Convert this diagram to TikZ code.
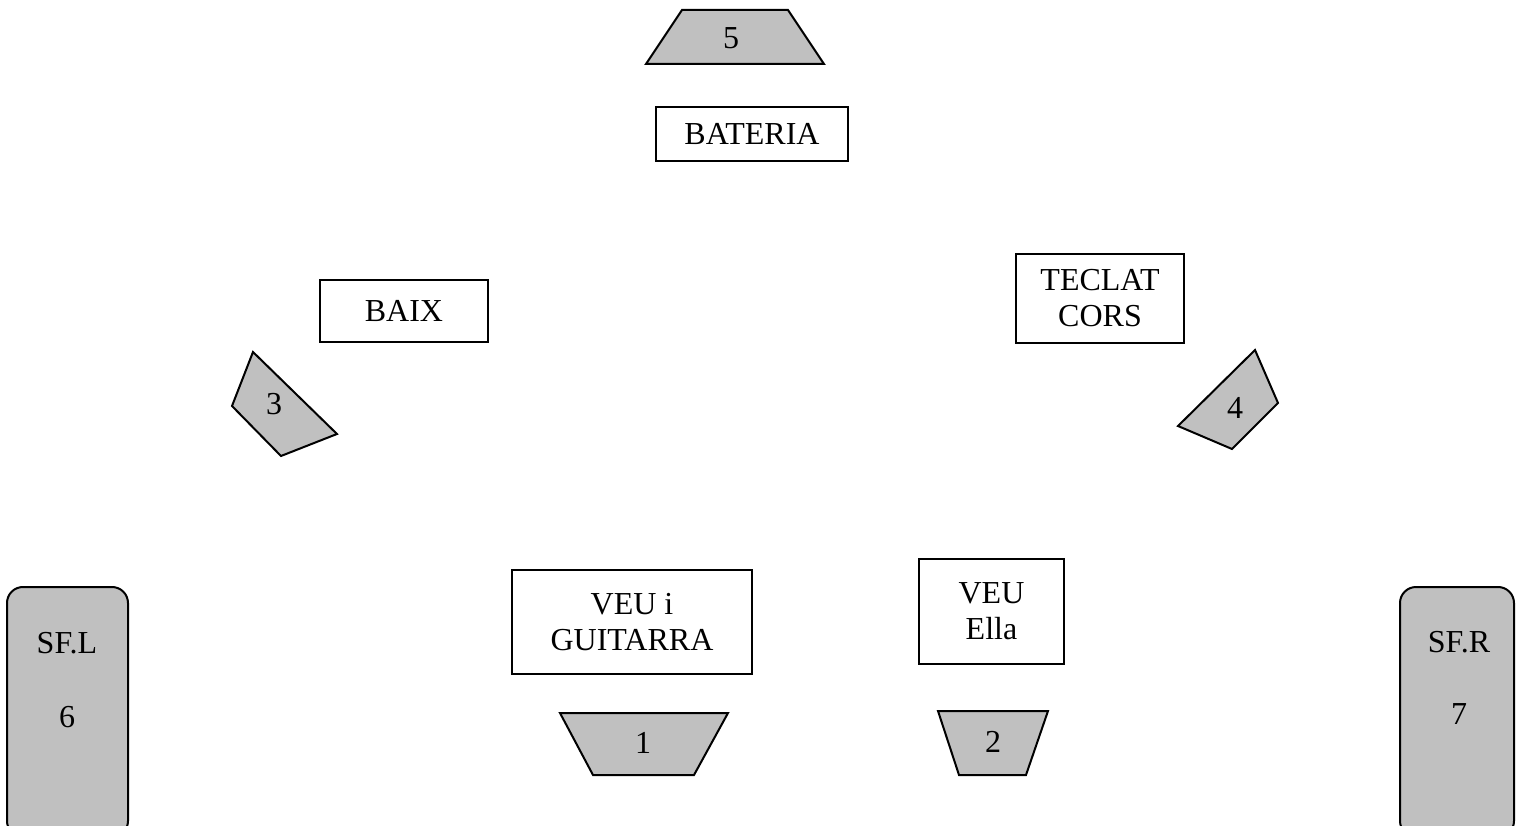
\documentclass[tikz,border=0pt]{standalone}
\usepackage{fontspec}
\setmainfont{Liberation Serif}
\definecolor{silverfill}{RGB}{192,192,192}
\begin{document}
\begin{tikzpicture}[x=1pt,y=-1pt,
  txt/.style={font=\fontsize{32}{36}\selectfont, align=center, inner sep=0pt},
  box/.style={draw=black, line width=2pt, fill=white, inner sep=0pt, txt},
  wedge/.style={draw=black, line width=2pt, fill=silverfill, line join=miter},
  sfbox/.style={draw=black, line width=2pt, fill=silverfill, rounded corners=16pt, inner sep=0pt}]
\useasboundingbox (0,0) rectangle (1516,826);
\clip (0,0) rectangle (1516,826);
% trapezium 5
\filldraw[wedge] (682,10) -- (788,10) -- (824,64) -- (646,64) -- cycle;
\node[txt] (n5) at (731,38) {5};
% boxes
\node[box, minimum width=192pt, minimum height=54pt] (bateria) at (752,134) {BATERIA};
\node[box, minimum width=168pt, minimum height=62pt] (baix) at (404,311) {BAIX};
\node[box, minimum width=168pt, minimum height=89pt] (teclat) at (1100,298.5) {TECLAT\\CORS};
\node[box, minimum width=240pt, minimum height=104pt] (veug) at (632,622) {VEU i\\GUITARRA};
\node[box, minimum width=145pt, minimum height=105pt] (veue) at (991.5,611.5) {VEU\\Ella};
% wedge 3
\filldraw[wedge] (253,352) -- (337,434) -- (281,456) -- (232,406) -- cycle;
\node[txt] (n3) at (274,404) {3};
% wedge 4
\filldraw[wedge] (1255,350) -- (1278,403) -- (1232,449) -- (1178,426) -- cycle;
\node[txt] (n4) at (1235,408) {4};
% trapezium 1
\filldraw[wedge] (560,713) -- (728,713) -- (694,775) -- (593,775) -- cycle;
\node[txt] (n1) at (643,743) {1};
% trapezium 2
\filldraw[wedge] (938,711) -- (1048,711) -- (1026,775) -- (959,775) -- cycle;
\node[txt] (n2) at (993,742) {2};
% side fills
\node[sfbox, minimum width=121pt, minimum height=250pt] (sfl) at (67.5,712) {};
\node[txt] (sfltxt) at (67,680) {SF.L\\[38pt]6};
\node[sfbox, minimum width=114pt, minimum height=250pt] (sfr) at (1457,712) {};
\node[txt] (sfrtxt) at (1459,678) {SF.R\\[36pt]7};
\end{tikzpicture}
\end{document}
